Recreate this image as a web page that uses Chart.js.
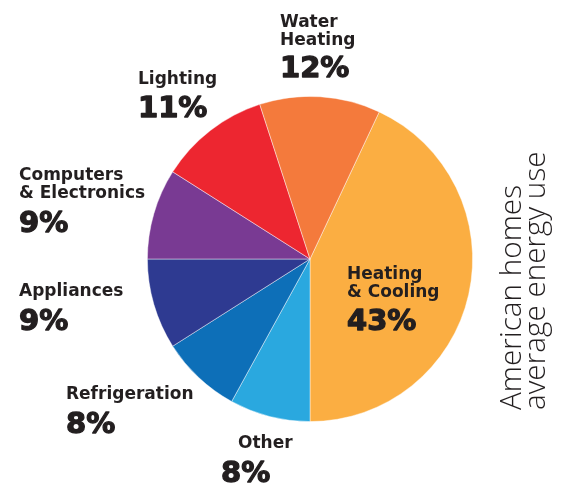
<!DOCTYPE html>
<html>
<head>
<meta charset="utf-8">
<script src="https://cdn.jsdelivr.net/npm/chart.js@4"></script>
<style>
  html, body { margin: 0; padding: 0; background: #ffffff; }
  #wrap { width: 565px; height: 483px; }
</style>
</head>
<body>
<div id="wrap"><canvas id="c" width="565" height="483"></canvas></div>
<script>
// ---- data ----
const categories = ["Heating & Cooling", "Other", "Refrigeration", "Appliances", "Computers & Electronics", "Lighting", "Water Heating"];
const values = [43, 8, 8, 9, 9, 11, 12];
const labelLines = [["Heating", "& Cooling"], ["Other"], ["Refrigeration"], ["Appliances"], ["Computers", "& Electronics"], ["Lighting"], ["Water", "Heating"]];
const titleLines = ["American homes", "average energy use"];

// ---- styles / layout (separate from data) ----
const colors = ["#FBAE42", "#2AA8DF", "#0D6FB8", "#2E3A91", "#793A93", "#ED2630", "#F47A3C"];
const labelX = [347, 238, 66, 19, 19, 138, 280];
const pctX = [347, 221, 66, 19, 19, 138, 280];
const nameBaseY = [279, 448, 399, 296, 180, 84, 27];
const pctBaseY = [330, 482, 433, 330, 232, 117, 77];
const textColor = "#231F20";

const labelPlugin = {
  id: 'sliceLabels',
  afterDraw(chart) {
    const ctx = chart.ctx;
    ctx.save();
    ctx.fillStyle = textColor;
    ctx.strokeStyle = textColor;
    ctx.lineJoin = 'round';
    ctx.textAlign = 'left';
    ctx.textBaseline = 'alphabetic';
    for (let i = 0; i < categories.length; i++) {
      ctx.font = "bold 17px 'DejaVu Sans'";
      labelLines[i].forEach((ln, k) => {
        ctx.fillText(ln, labelX[i], nameBaseY[i] + k * 18);
      });
      ctx.font = "bold 29px 'DejaVu Sans'";
      ctx.lineWidth = 1.3;
      ctx.fillText(values[i] + "%", pctX[i], pctBaseY[i]);
      ctx.strokeText(values[i] + "%", pctX[i], pctBaseY[i]);
    }
    // vertical title
    ctx.font = "300 26px 'Open Sans'";
    const w = ctx.measureText(titleLines[0]).width;
    const size = 26 * 225 / w;
    ctx.font = "300 " + size.toFixed(2) + "px 'Open Sans'";
    const bx = [521, 545];
    titleLines.forEach((t, k) => {
      ctx.save();
      ctx.translate(bx[k], 410);
      ctx.rotate(-Math.PI / 2);
      ctx.fillText(t, 0, 0);
      ctx.restore();
    });
    ctx.restore();
  }
};

new Chart(document.getElementById('c'), {
  type: 'pie',
  data: {
    labels: categories,
    datasets: [{
      data: values,
      backgroundColor: colors,
      borderColor: 'rgba(255,255,255,0.55)',
      borderWidth: 0.8
    }]
  },
  options: {
    responsive: false,
    animation: false,
    rotation: 25.2,
    layout: { padding: { left: 147, right: 92, top: 96, bottom: 61 } },
    plugins: { legend: { display: false }, tooltip: { enabled: false }, title: { display: false } }
  },
  plugins: [labelPlugin]
});
</script>
</body>
</html>
